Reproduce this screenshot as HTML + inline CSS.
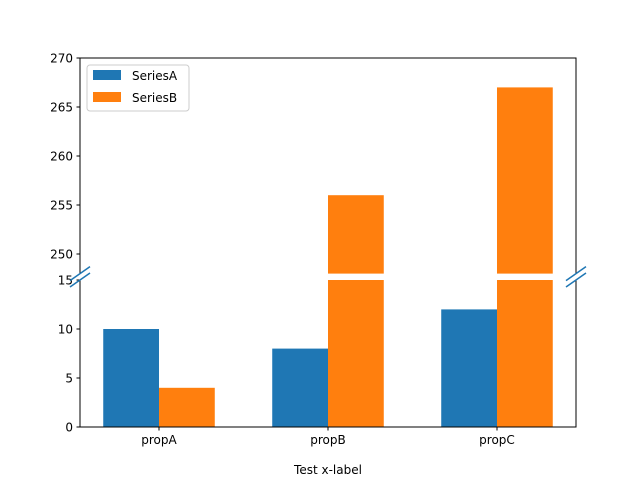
<!DOCTYPE html>
<html><head><meta charset="utf-8"><style>body{margin:0;background:#fff}svg{display:block;font-family:"DejaVu Sans","Liberation Sans",sans-serif}</style></head>
<body>
<svg id="c" width="640" height="480" xmlns="http://www.w3.org/2000/svg"></svg>
<script>
const categories = ["propA","propB","propC"];
const seriesA = [10, 8, 12];
const seriesB = [4, 256, 267];
const topTicks = [250, 255, 260, 265, 270];
const bottomTicks = [0, 5, 10, 15];
const seriesNames = ["SeriesA","SeriesB"];
const colors = ["#1f77b4","#ff7f0e"];

const svg = document.getElementById('c');
const NS = "http://www.w3.org/2000/svg";
function mk(tag, attrs, parent){const e=document.createElementNS(NS,tag);for(const k in attrs)e.setAttribute(k,attrs[k]);(parent||svg).appendChild(e);return e;}
const L=80,R=576;
const topY0=58, topY1=273.6, topMin=248, topMax=270;
const botY0=280, botY1=427, botMin=0, botMax=15;
const xMin=-0.4675, xMax=2.4675;
function xs(v){return L+(v-xMin)/(xMax-xMin)*(R-L);}
function yTop(v){return topY1-(v-topMin)/(topMax-topMin)*(topY1-topY0);}
function yBot(v){return botY1-(v-botMin)/(botMax-botMin)*(botY1-botY0);}
const bw=0.33;
function drawBar(cx, v, color, name){
  const x0=xs(cx), w=xs(cx+bw)-xs(cx);
  const vb=Math.min(v,botMax);
  const r1=mk('rect',{x:x0,y:yBot(vb),width:w,height:yBot(0)-yBot(vb),fill:color});
  
  
  if(v>topMin){
    const vt=Math.min(v,topMax);
    const r2=mk('rect',{x:x0,y:yTop(vt),width:w,height:topY1-yTop(vt),fill:color});
    
    
  }
}
categories.forEach((c,i)=>{
  drawBar(i-bw, seriesA[i], colors[0], 'bar-a-'+c);
  drawBar(i, seriesB[i], colors[1], 'bar-b-'+c);
});
const sp={stroke:'#000','stroke-width':1,fill:'none'};
mk('polyline',Object.assign({points:`${L},${topY1} ${L},${topY0} ${R},${topY0} ${R},${topY1}`},sp));
mk('polyline',Object.assign({points:`${L},${botY0} ${L},${botY1} ${R},${botY1} ${R},${botY0}`},sp));
topTicks.forEach(t=>{const y=yTop(t);mk('line',{x1:L-3.5,y1:y,x2:L,y2:y,stroke:'#000'});
  const tx=mk('text',{x:L-7,y:y+4.5,'text-anchor':'end','font-size':12});tx.textContent=t;
  });
bottomTicks.forEach(t=>{const y=yBot(t);mk('line',{x1:L-3.5,y1:y,x2:L,y2:y,stroke:'#000'});
  const tx=mk('text',{x:L-7,y:y+4.5,'text-anchor':'end','font-size':12});tx.textContent=t;
  });
categories.forEach((c,i)=>{const x=xs(i);mk('line',{x1:x,y1:botY1,x2:x,y2:botY1+3.5,stroke:'#000'});
  const tx=mk('text',{x:x,y:botY1+17,'text-anchor':'middle','font-size':12});tx.textContent=c;
  });
const xl=mk('text',{x:328,y:474,'text-anchor':'middle','font-size':12});xl.textContent='Test x-label';

[[L],[R]].forEach(([x])=>{
  mk('line',{x1:x-10,y1:topY1+7,x2:x+10,y2:topY1-7,stroke:'#1f77b4','stroke-width':1.5});
  mk('line',{x1:x-10,y1:botY0+7,x2:x+10,y2:botY0-7,stroke:'#1f77b4','stroke-width':1.5});
});
const lg=mk('g',{});

mk('rect',{x:87,y:65,width:102,height:46,rx:3,fill:'#fff',stroke:'#ccc'},lg);
seriesNames.forEach((n,i)=>{
  const y=70+i*22;
  mk('rect',{x:93,y:y,width:28,height:10,fill:colors[i]},lg);
  const t=mk('text',{x:132,y:y+10,'font-size':12},lg);t.textContent=n;
  
});
</script>
</body></html>
